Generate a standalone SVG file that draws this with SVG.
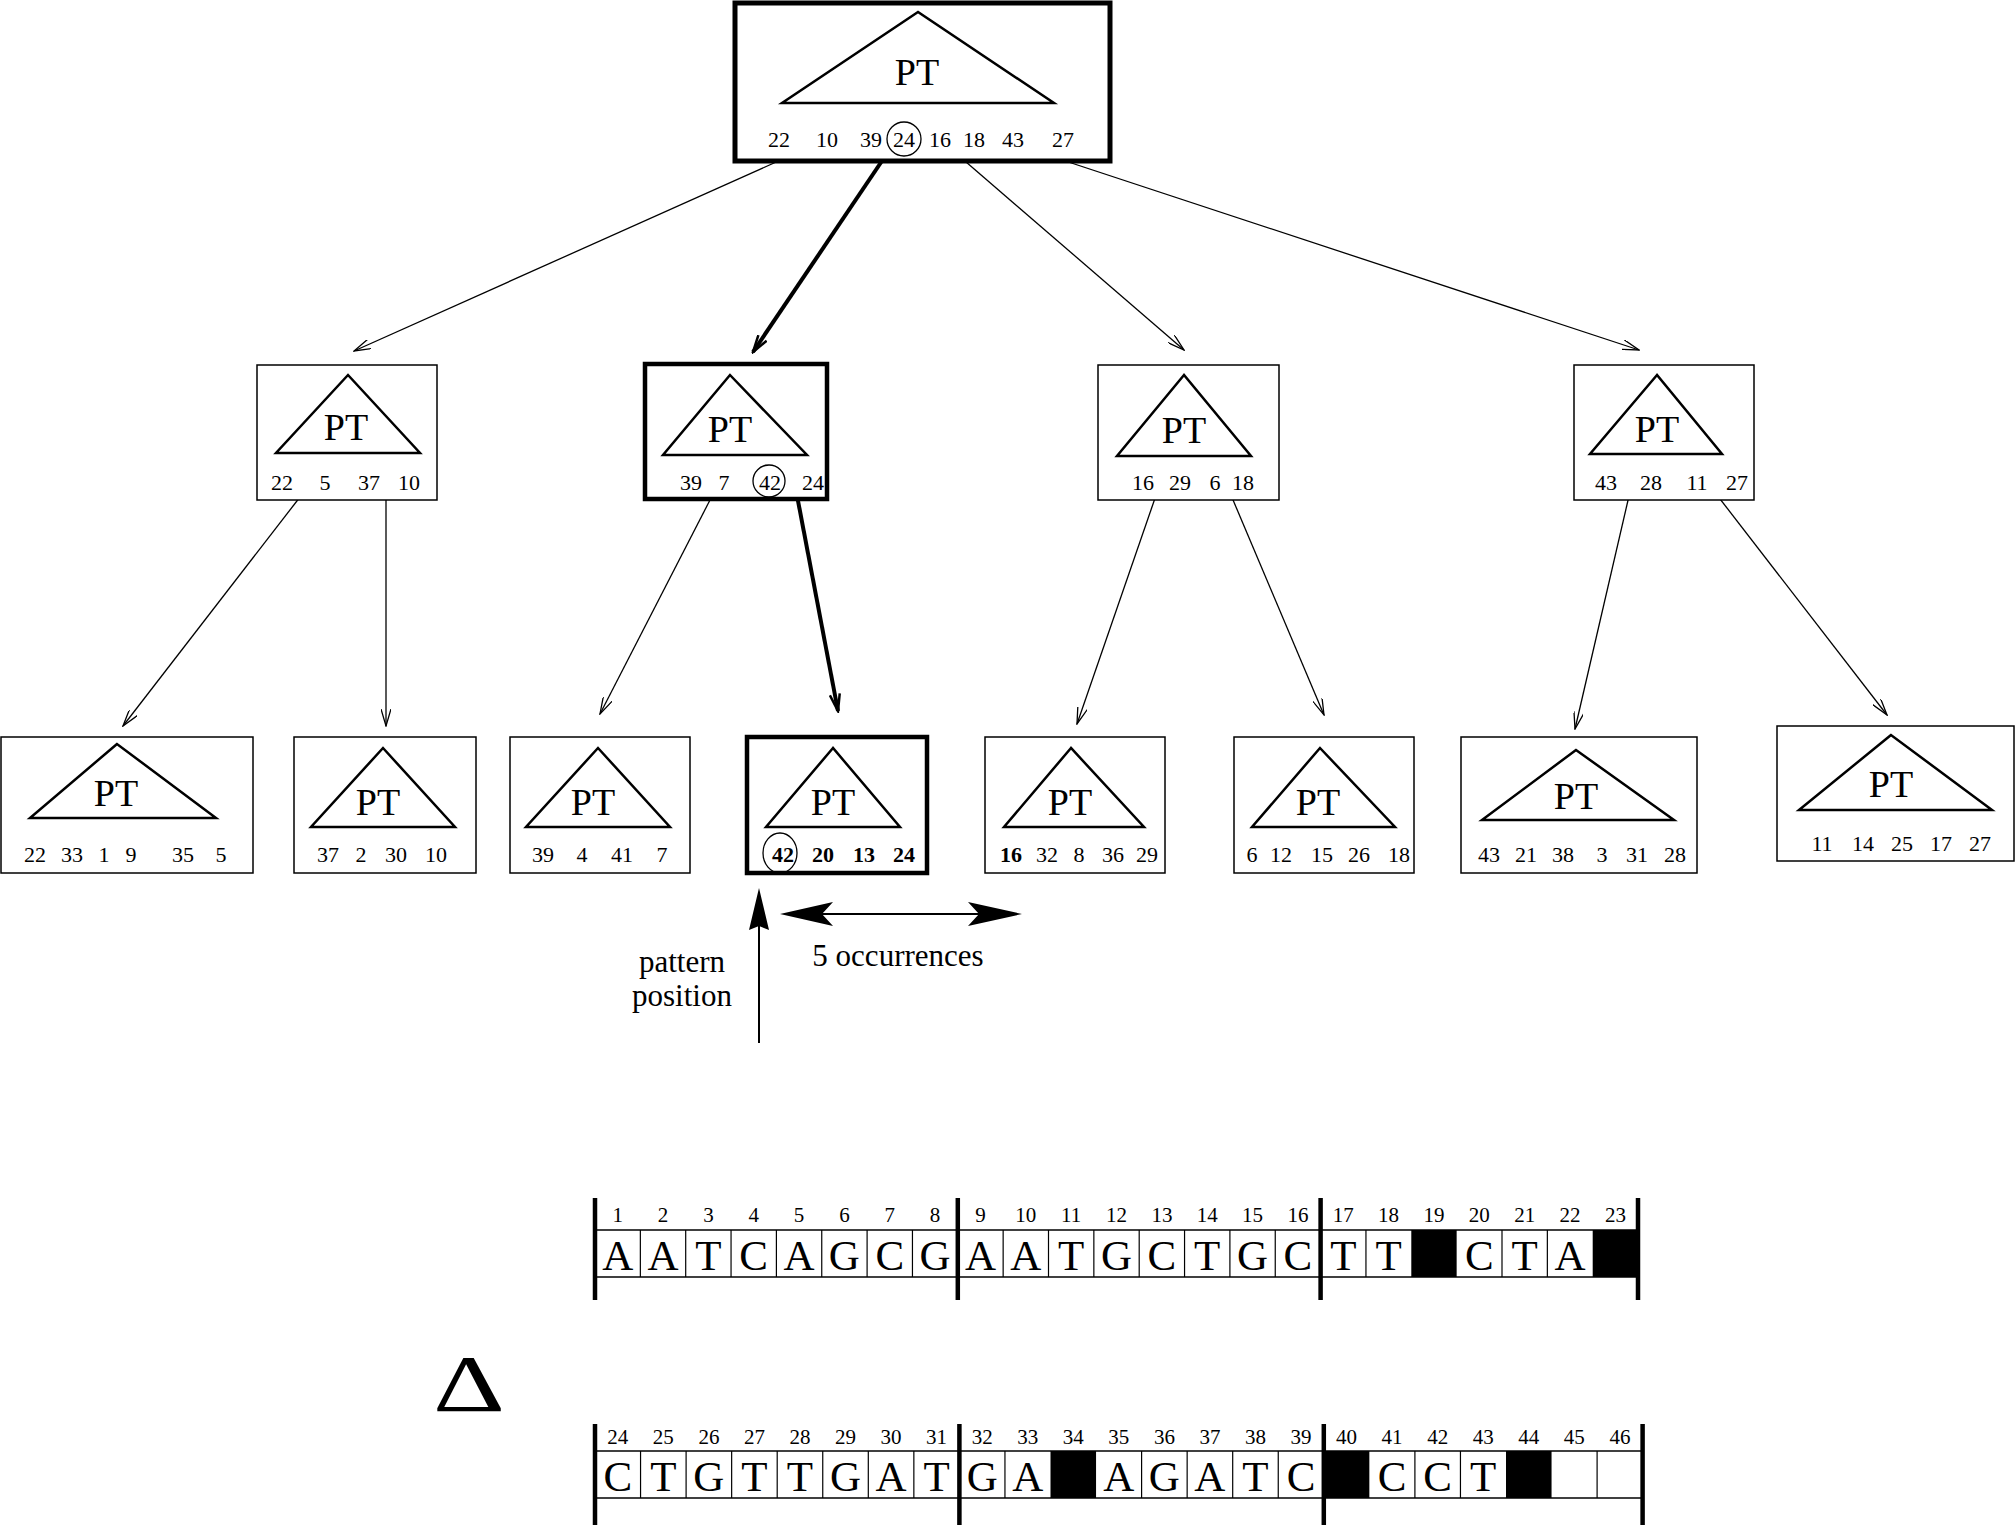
<svg xmlns="http://www.w3.org/2000/svg" width="2016" height="1528" viewBox="0 0 2016 1528">
  <style>
    text { font-family: "Liberation Serif", "Times New Roman", serif; fill: #000; }
    .box { fill: #fff; stroke: #000; stroke-width: 1.5; }
    .box-hl { fill: #fff; stroke: #000; stroke-width: 4.5; }
    .tri { fill: none; stroke: #000; stroke-width: 2.5; stroke-linejoin: miter; }
    .pt { font-size: 38px; text-anchor: middle; }
    .num { font-size: 22px; text-anchor: middle; }
    .b { font-weight: bold; }
    .ring { fill: none; stroke: #000; stroke-width: 1.3; }
    .edge { fill: none; stroke: #000; stroke-width: 1.3; marker-end: url(#open); }
    .edge-hl { fill: none; stroke: #000; stroke-width: 4; marker-end: url(#open-hl); }
    .lbl { font-size: 31px; text-anchor: middle; }
    .cellnum { font-size: 21px; text-anchor: middle; }
    .base { font-size: 43px; text-anchor: middle; }
    .rule { stroke: #000; stroke-width: 1.5; }
    .div { stroke: #000; stroke-width: 1.2; }
    .bar { stroke: #000; stroke-width: 4.5; }
  </style>
  <defs>
    <marker id="open" viewBox="0 0 18 10" refX="17" refY="5" markerWidth="18" markerHeight="10" markerUnits="userSpaceOnUse" orient="auto">
      <path d="M0,0 L17,5 L0,10" fill="none" stroke="#000" stroke-width="1.3"/>
    </marker>
    <marker id="open-hl" viewBox="0 0 20 12" refX="18" refY="6" markerWidth="20" markerHeight="12" markerUnits="userSpaceOnUse" orient="auto">
      <path d="M1,1 L18,6 L1,11" fill="none" stroke="#000" stroke-width="2.5"/>
    </marker>
  </defs>

  <!-- connectors -->
  <g id="connectors">
    <line class="edge" x1="803" y1="150" x2="354" y2="351"/>
    <line class="edge-hl" x1="888" y1="152" x2="753" y2="352"/>
    <line class="edge" x1="951" y1="149" x2="1184" y2="350"/>
    <line class="edge" x1="1032" y1="150" x2="1639" y2="350"/>

    <line class="edge" x1="300" y1="497" x2="123" y2="726"/>
    <line class="edge" x1="386" y1="489" x2="386" y2="726"/>
    <line class="edge" x1="710" y1="500" x2="600" y2="714"/>
    <line class="edge-hl" x1="795" y1="485" x2="838" y2="711"/>
    <line class="edge" x1="1162" y1="478" x2="1077" y2="724"/>
    <line class="edge" x1="1225" y1="481" x2="1324" y2="715"/>
    <line class="edge" x1="1629" y1="496" x2="1575" y2="729"/>
    <line class="edge" x1="1710" y1="486" x2="1887" y2="715"/>
  </g>

  <!-- root -->
  <g id="root">
    <rect x="735" y="3" width="375" height="158" fill="#fff" stroke="#000" stroke-width="5"/>
    <polygon class="tri" points="918,12 782,103 1054,103"/>
    <text class="pt" x="917" y="85" font-size="41">PT</text>
    <text class="num" x="779" y="147">22</text>
    <text class="num" x="827" y="147">10</text>
    <text class="num" x="871" y="147">39</text>
    <text class="num" x="904" y="147">24</text>
    <circle class="ring" cx="904" cy="139" r="17"/>
    <text class="num" x="940" y="147">16</text>
    <text class="num" x="974" y="147">18</text>
    <text class="num" x="1013" y="147">43</text>
    <text class="num" x="1063" y="147">27</text>
  </g>

  <!-- second level -->
  <g id="n-a">
    <rect class="box" x="257" y="365" width="180" height="135"/>
    <polygon class="tri" points="348,375 276,453 420,453"/>
    <text class="pt" x="346" y="440">PT</text>
    <text class="num" x="282" y="490">22</text>
    <text class="num" x="325" y="490">5</text>
    <text class="num" x="369" y="490">37</text>
    <text class="num" x="409" y="490">10</text>
  </g>
  <g id="n-b">
    <rect class="box-hl" x="645" y="364" width="182" height="135"/>
    <polygon class="tri" points="730,375 663,455 807,455"/>
    <text class="pt" x="730" y="442">PT</text>
    <text class="num" x="691" y="490">39</text>
    <text class="num" x="724" y="490">7</text>
    <text class="num" x="770" y="490">42</text>
    <circle class="ring" cx="769" cy="481" r="16"/>
    <text class="num" x="813" y="490">24</text>
  </g>
  <g id="n-c">
    <rect class="box" x="1098" y="365" width="181" height="135"/>
    <polygon class="tri" points="1184,375 1117,456 1251,456"/>
    <text class="pt" x="1184" y="443">PT</text>
    <text class="num" x="1143" y="490">16</text>
    <text class="num" x="1180" y="490">29</text>
    <text class="num" x="1215" y="490">6</text>
    <text class="num" x="1243" y="490">18</text>
  </g>
  <g id="n-d">
    <rect class="box" x="1574" y="365" width="180" height="135"/>
    <polygon class="tri" points="1657,375 1590,454 1722,454"/>
    <text class="pt" x="1657" y="442">PT</text>
    <text class="num" x="1606" y="490">43</text>
    <text class="num" x="1651" y="490">28</text>
    <text class="num" x="1697" y="490">11</text>
    <text class="num" x="1737" y="490">27</text>
  </g>

  <!-- leaves -->
  <g id="leaf-1">
    <rect class="box" x="1" y="737" width="252" height="136"/>
    <polygon class="tri" points="117,744 30,818 216,818"/>
    <text class="pt" x="116" y="806">PT</text>
    <text class="num" x="35" y="862">22</text>
    <text class="num" x="72" y="862">33</text>
    <text class="num" x="104" y="862">1</text>
    <text class="num" x="131" y="862">9</text>
    <text class="num" x="183" y="862">35</text>
    <text class="num" x="221" y="862">5</text>
  </g>
  <g id="leaf-2">
    <rect class="box" x="294" y="737" width="182" height="136"/>
    <polygon class="tri" points="383,748 311,827 455,827"/>
    <text class="pt" x="378" y="815">PT</text>
    <text class="num" x="328" y="862">37</text>
    <text class="num" x="361" y="862">2</text>
    <text class="num" x="396" y="862">30</text>
    <text class="num" x="436" y="862">10</text>
  </g>
  <g id="leaf-3">
    <rect class="box" x="510" y="737" width="180" height="136"/>
    <polygon class="tri" points="598,748 526,827 670,827"/>
    <text class="pt" x="593" y="815">PT</text>
    <text class="num" x="543" y="862">39</text>
    <text class="num" x="582" y="862">4</text>
    <text class="num" x="622" y="862">41</text>
    <text class="num" x="662" y="862">7</text>
  </g>
  <g id="leaf-4">
    <rect class="box-hl" x="747" y="737" width="180" height="136"/>
    <polygon class="tri" points="833,748 766,827 900,827"/>
    <text class="pt" x="833" y="815">PT</text>
    <text class="num b" x="783" y="862">42</text>
    <ellipse class="ring" cx="780" cy="853" rx="17" ry="20"/>
    <text class="num b" x="823" y="862">20</text>
    <text class="num b" x="864" y="862">13</text>
    <text class="num b" x="904" y="862">24</text>
  </g>
  <g id="leaf-5">
    <rect class="box" x="985" y="737" width="180" height="136"/>
    <polygon class="tri" points="1071,748 1004,827 1144,827"/>
    <text class="pt" x="1070" y="815">PT</text>
    <text class="num b" x="1011" y="862">16</text>
    <text class="num" x="1047" y="862">32</text>
    <text class="num" x="1079" y="862">8</text>
    <text class="num" x="1113" y="862">36</text>
    <text class="num" x="1147" y="862">29</text>
  </g>
  <g id="leaf-6">
    <rect class="box" x="1234" y="737" width="180" height="136"/>
    <polygon class="tri" points="1320,748 1252,827 1395,827"/>
    <text class="pt" x="1318" y="815">PT</text>
    <text class="num" x="1252" y="862">6</text>
    <text class="num" x="1281" y="862">12</text>
    <text class="num" x="1322" y="862">15</text>
    <text class="num" x="1359" y="862">26</text>
    <text class="num" x="1399" y="862">18</text>
  </g>
  <g id="leaf-7">
    <rect class="box" x="1461" y="737" width="236" height="136"/>
    <polygon class="tri" points="1576,750 1482,820 1674,820"/>
    <text class="pt" x="1576" y="809">PT</text>
    <text class="num" x="1489" y="862">43</text>
    <text class="num" x="1526" y="862">21</text>
    <text class="num" x="1563" y="862">38</text>
    <text class="num" x="1602" y="862">3</text>
    <text class="num" x="1637" y="862">31</text>
    <text class="num" x="1675" y="862">28</text>
  </g>
  <g id="leaf-8">
    <rect class="box" x="1777" y="726" width="237" height="135"/>
    <polygon class="tri" points="1891,735 1799,810 1992,810"/>
    <text class="pt" x="1891" y="797">PT</text>
    <text class="num" x="1822" y="851">11</text>
    <text class="num" x="1863" y="851">14</text>
    <text class="num" x="1902" y="851">25</text>
    <text class="num" x="1941" y="851">17</text>
    <text class="num" x="1980" y="851">27</text>
  </g>

  <!-- pattern position / occurrence markers -->
  <g id="pattern-position">
    <line x1="759" y1="1043" x2="759" y2="920" stroke="#000" stroke-width="2"/>
    <polygon points="759,888 769,930 759,926 749,930" fill="#000"/>
    <text class="lbl" x="682" y="972">pattern</text>
    <text class="lbl" x="682" y="1006">position</text>
  </g>
  <g id="occurrences">
    <line x1="800" y1="914" x2="1000" y2="914" stroke="#000" stroke-width="2"/>
    <polygon points="780,914 833,902 822,914 833,926" fill="#000"/>
    <polygon points="1022,914 968,902 979,914 968,926" fill="#000"/>
    <text class="lbl" x="898" y="966">5 occurrences</text>
  </g>

  <!-- delta symbol -->
  <text x="0" y="0" font-size="80" transform="translate(469,1411) scale(1.4,1)" text-anchor="middle">Δ</text>

  <!-- sequence row 1: positions 1-23 -->
  <g id="row-1">
    <rect x="1411.3" y="1230" width="45.35" height="47" fill="#000"/>
    <rect x="1592.7" y="1230" width="45.35" height="47" fill="#000"/>
    <line class="rule" x1="595" y1="1230" x2="1638" y2="1230"/>
    <line class="rule" x1="595" y1="1277" x2="1638" y2="1277"/>
    <g class="div">
      <line x1="640.35" y1="1230" x2="640.35" y2="1277"/>
      <line x1="685.7" y1="1230" x2="685.7" y2="1277"/>
      <line x1="731.05" y1="1230" x2="731.05" y2="1277"/>
      <line x1="776.4" y1="1230" x2="776.4" y2="1277"/>
      <line x1="821.75" y1="1230" x2="821.75" y2="1277"/>
      <line x1="867.1" y1="1230" x2="867.1" y2="1277"/>
      <line x1="912.45" y1="1230" x2="912.45" y2="1277"/>
      <line x1="1003.15" y1="1230" x2="1003.15" y2="1277"/>
      <line x1="1048.5" y1="1230" x2="1048.5" y2="1277"/>
      <line x1="1093.85" y1="1230" x2="1093.85" y2="1277"/>
      <line x1="1139.2" y1="1230" x2="1139.2" y2="1277"/>
      <line x1="1184.55" y1="1230" x2="1184.55" y2="1277"/>
      <line x1="1229.9" y1="1230" x2="1229.9" y2="1277"/>
      <line x1="1275.25" y1="1230" x2="1275.25" y2="1277"/>
      <line x1="1365.95" y1="1230" x2="1365.95" y2="1277"/>
      <line x1="1502" y1="1230" x2="1502" y2="1277"/>
      <line x1="1547.35" y1="1230" x2="1547.35" y2="1277"/>
    </g>
    <line class="bar" x1="595" y1="1198" x2="595" y2="1300"/>
    <line class="bar" x1="957.8" y1="1198" x2="957.8" y2="1300"/>
    <line class="bar" x1="1320.6" y1="1198" x2="1320.6" y2="1300"/>
    <line class="bar" x1="1638" y1="1198" x2="1638" y2="1300"/>
    <g class="cellnum">
      <text x="617.7" y="1222">1</text><text x="663" y="1222">2</text><text x="708.4" y="1222">3</text><text x="753.7" y="1222">4</text>
      <text x="799.1" y="1222">5</text><text x="844.4" y="1222">6</text><text x="889.8" y="1222">7</text><text x="935.1" y="1222">8</text>
      <text x="980.5" y="1222">9</text><text x="1025.8" y="1222">10</text><text x="1071.2" y="1222">11</text><text x="1116.5" y="1222">12</text>
      <text x="1161.9" y="1222">13</text><text x="1207.2" y="1222">14</text><text x="1252.6" y="1222">15</text><text x="1297.9" y="1222">16</text>
      <text x="1343.3" y="1222">17</text><text x="1388.6" y="1222">18</text><text x="1434" y="1222">19</text><text x="1479.3" y="1222">20</text>
      <text x="1524.7" y="1222">21</text><text x="1570" y="1222">22</text><text x="1615.4" y="1222">23</text>
    </g>
    <g class="base">
      <text x="617.7" y="1270">A</text><text x="663" y="1270">A</text><text x="708.4" y="1270">T</text><text x="753.7" y="1270">C</text>
      <text x="799.1" y="1270">A</text><text x="844.4" y="1270">G</text><text x="889.8" y="1270">C</text><text x="935.1" y="1270">G</text>
      <text x="980.5" y="1270">A</text><text x="1025.8" y="1270">A</text><text x="1071.2" y="1270">T</text><text x="1116.5" y="1270">G</text>
      <text x="1161.9" y="1270">C</text><text x="1207.2" y="1270">T</text><text x="1252.6" y="1270">G</text><text x="1297.9" y="1270">C</text>
      <text x="1343.3" y="1270">T</text><text x="1388.6" y="1270">T</text>
      <text x="1479.3" y="1270">C</text><text x="1524.7" y="1270">T</text><text x="1570" y="1270">A</text>
    </g>
  </g>

  <!-- sequence row 2: positions 24-46 -->
  <g id="row-2">
    <rect x="1050.5" y="1451" width="45.55" height="47" fill="#000"/>
    <rect x="1323.8" y="1451" width="45.55" height="47" fill="#000"/>
    <rect x="1506" y="1451" width="45.55" height="47" fill="#000"/>
    <line class="rule" x1="595" y1="1451" x2="1643" y2="1451"/>
    <line class="rule" x1="595" y1="1498" x2="1643" y2="1498"/>
    <g class="div">
      <line x1="640.55" y1="1451" x2="640.55" y2="1498"/>
      <line x1="686.1" y1="1451" x2="686.1" y2="1498"/>
      <line x1="731.65" y1="1451" x2="731.65" y2="1498"/>
      <line x1="777.2" y1="1451" x2="777.2" y2="1498"/>
      <line x1="822.75" y1="1451" x2="822.75" y2="1498"/>
      <line x1="868.3" y1="1451" x2="868.3" y2="1498"/>
      <line x1="913.85" y1="1451" x2="913.85" y2="1498"/>
      <line x1="1004.95" y1="1451" x2="1004.95" y2="1498"/>
      <line x1="1141.6" y1="1451" x2="1141.6" y2="1498"/>
      <line x1="1187.15" y1="1451" x2="1187.15" y2="1498"/>
      <line x1="1232.7" y1="1451" x2="1232.7" y2="1498"/>
      <line x1="1278.25" y1="1451" x2="1278.25" y2="1498"/>
      <line x1="1414.9" y1="1451" x2="1414.9" y2="1498"/>
      <line x1="1460.45" y1="1451" x2="1460.45" y2="1498"/>
      <line x1="1597.1" y1="1451" x2="1597.1" y2="1498"/>
    </g>
    <line class="bar" x1="595" y1="1424" x2="595" y2="1525"/>
    <line class="bar" x1="959.4" y1="1424" x2="959.4" y2="1525"/>
    <line class="bar" x1="1323.8" y1="1424" x2="1323.8" y2="1525"/>
    <line class="bar" x1="1642.6" y1="1424" x2="1642.6" y2="1525"/>
    <g class="cellnum">
      <text x="617.8" y="1444">24</text><text x="663.3" y="1444">25</text><text x="708.9" y="1444">26</text><text x="754.4" y="1444">27</text>
      <text x="800" y="1444">28</text><text x="845.5" y="1444">29</text><text x="891.1" y="1444">30</text><text x="936.6" y="1444">31</text>
      <text x="982.2" y="1444">32</text><text x="1027.7" y="1444">33</text><text x="1073.3" y="1444">34</text><text x="1118.8" y="1444">35</text>
      <text x="1164.4" y="1444">36</text><text x="1209.9" y="1444">37</text><text x="1255.5" y="1444">38</text><text x="1301" y="1444">39</text>
      <text x="1346.6" y="1444">40</text><text x="1392.1" y="1444">41</text><text x="1437.7" y="1444">42</text><text x="1483.2" y="1444">43</text>
      <text x="1528.8" y="1444">44</text><text x="1574.3" y="1444">45</text><text x="1619.9" y="1444">46</text>
    </g>
    <g class="base">
      <text x="617.8" y="1491">C</text><text x="663.3" y="1491">T</text><text x="708.9" y="1491">G</text><text x="754.4" y="1491">T</text>
      <text x="800" y="1491">T</text><text x="845.5" y="1491">G</text><text x="891.1" y="1491">A</text><text x="936.6" y="1491">T</text>
      <text x="982.2" y="1491">G</text><text x="1027.7" y="1491">A</text>
      <text x="1118.8" y="1491">A</text><text x="1164.4" y="1491">G</text><text x="1209.9" y="1491">A</text><text x="1255.5" y="1491">T</text><text x="1301" y="1491">C</text>
      <text x="1392.1" y="1491">C</text><text x="1437.7" y="1491">C</text><text x="1483.2" y="1491">T</text>
    </g>
  </g>
</svg>
